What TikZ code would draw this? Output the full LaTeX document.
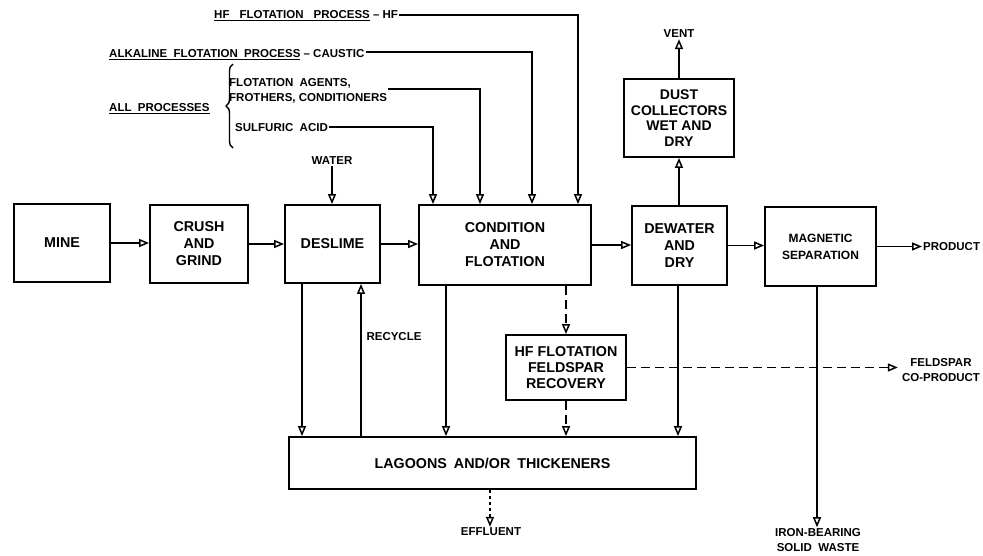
\documentclass[tikz,border=0pt]{standalone}
\usepackage{fontspec}
\setsansfont{Liberation Sans}
\usetikzlibrary{arrows.meta,decorations.pathreplacing}
\newcommand\ulin[1]{\leavevmode\setbox0\hbox{#1}\rlap{\rule[-3pt]{\wd0}{1.3pt}}\box0}
\begin{document}
\begin{tikzpicture}[x=1pt,y=-1pt,
  box/.style={draw, line width=1.9pt, align=center, inner sep=0pt,
    font=\sffamily\bfseries\fontsize{14.3}{17}\selectfont},
  lbl/.style={align=center, inner sep=1pt,
    font=\sffamily\bfseries\fontsize{11.5}{15}\selectfont},
  flow/.style={line width=1.7pt, -{Triangle[open,length=10pt,width=8pt,line width=1.5pt]}},
  dsh/.style={flow, dash pattern=on 9pt off 5pt},
  dot/.style={flow, dash pattern=on 3pt off 3pt}]
\useasboundingbox (0,0) rectangle (983,555);

% boxes
\node[box, minimum width=96pt, minimum height=78pt] (mine) at (62,243) {MINE};
\node[box, minimum width=98pt, minimum height=78pt] (crush) at (199,244) {CRUSH\\AND\\GRIND};
\node[box, minimum width=95pt, minimum height=78pt] (deslime) at (332.5,244) {DESLIME};
\node[box, minimum width=172pt, minimum height=80pt] (cond) at (505,245) {CONDITION\\AND\\FLOTATION};
\node[box, minimum width=95pt, minimum height=79pt] (dewater) at (679.5,245.5) {DEWATER\\AND\\DRY};
\node[box, minimum width=111pt, minimum height=79pt, font=\sffamily\bfseries\fontsize{12}{17}\selectfont] (mag) at (820.5,246.5) {MAGNETIC\\SEPARATION};
\node[box, minimum width=110pt, minimum height=78pt, font=\sffamily\bfseries\fontsize{14}{15.5}\selectfont] (dust) at (679,118) {DUST\\COLLECTORS\\WET AND\\DRY};
\node[box, minimum width=120pt, minimum height=65pt, font=\sffamily\bfseries\fontsize{14.3}{16}\selectfont] (hfrec) at (566,367.5) {HF FLOTATION\\FELDSPAR\\RECOVERY};
\node[box, minimum width=407pt, minimum height=52pt] (lag) at (492.5,463) {LAGOONS\hspace{7pt}AND/OR\hspace{7pt}THICKENERS};

% labels
\node[lbl, anchor=base west] (hfp) at (213,18) {\ulin{HF\hspace{10pt}FLOTATION\hspace{10pt}PROCESS}\ -- HF};
\node[lbl, anchor=base west] (alk) at (108,57) {\ulin{ALKALINE\ \ FLOTATION\ \ PROCESS}\ -- CAUSTIC};
\node[lbl, anchor=base west] (allp) at (108,111) {\ulin{ALL\ \ PROCESSES}};
\node[lbl, anchor=north west, align=left] (agents) at (228,77) {FLOTATION\ \ AGENTS,\\FROTHERS, CONDITIONERS};
\node[lbl, anchor=base west] (sulf) at (234,131) {SULFURIC\ \ ACID};
\node[lbl] (water) at (332,161) {WATER};
\node[lbl] (vent) at (679,34) {VENT};
\node[lbl, anchor=west] (prod) at (922,246.5) {PRODUCT};
\node[lbl] (feld) at (941,370) {FELDSPAR\\CO-PRODUCT};
\node[lbl] (recycle) at (394,337) {RECYCLE};
\node[lbl] (eff) at (491,532) {EFFLUENT};
\node[lbl] (iron) at (818,540) {IRON-BEARING\\SOLID\ \ WASTE};

% brace
\coordinate (brb) at (233,148);
\coordinate (brt) at (233,64);
\draw[line width=1.4pt, decorate, decoration={brace, amplitude=7pt}] (brb) -- (brt);

% turning points and drop positions
\coordinate (hfturn) at (578,15);
\coordinate (alkturn) at (532,52);
\coordinate (agturn) at (480,89);
\coordinate (sulturn) at (433,127);
\coordinate (dx) at (302,0);
\coordinate (rx) at (361,0);
\coordinate (cx) at (446,0);
\coordinate (hx) at (566,0);
\coordinate (wx) at (678,0);
\coordinate (ix) at (817,0);
\coordinate (ex) at (490,0);

% main flow
\draw[flow] (mine.east) -- (mine.east -| crush.west);
\draw[flow] (crush.east) -- (crush.east -| deslime.west);
\draw[flow] (deslime.east) -- (deslime.east -| cond.west);
\draw[flow] (cond.east) -- (cond.east -| dewater.west);
\draw[flow] (dewater.east) -- (dewater.east -| mag.west);
\draw[flow] (mag.east) -- (mag.east -| prod.west);

% reagent feeds
\draw[flow] (hfp.east |- hfturn) -- (hfturn) -- (hfturn |- cond.north);
\draw[flow] (alk.east |- alkturn) -- (alkturn) -- (alkturn |- cond.north);
\draw[flow] (agents.east |- agturn) -- (agturn) -- (agturn |- cond.north);
\draw[flow] (sulf.east |- sulturn) -- (sulturn) -- (sulturn |- cond.north);
\draw[flow] (water.south) -- (water.south |- deslime.north);

% dust collectors
\draw[flow] (dewater.north -| dust.south) -- (dust.south);
\draw[flow] (dust.north) -- (vent.south);

% to lagoons
\draw[flow] (deslime.south -| dx) -- (lag.north -| dx);
\draw[flow] (lag.north -| rx) -- (deslime.south -| rx);
\draw[flow] (cond.south -| cx) -- (lag.north -| cx);
\draw[flow] (dewater.south -| wx) -- (lag.north -| wx);
\draw[dsh] (cond.south -| hx) -- (hfrec.north -| hx);
\draw[dsh] (hfrec.south -| hx) -- (lag.north -| hx);
\draw[dsh, shorten >=3pt] (hfrec.east) -- (hfrec.east -| feld.west);
\draw[flow] (mag.south -| ix) -- (iron.north -| ix);
\draw[dot] (lag.south -| ex) -- (eff.north -| ex);
\end{tikzpicture}
\end{document}
